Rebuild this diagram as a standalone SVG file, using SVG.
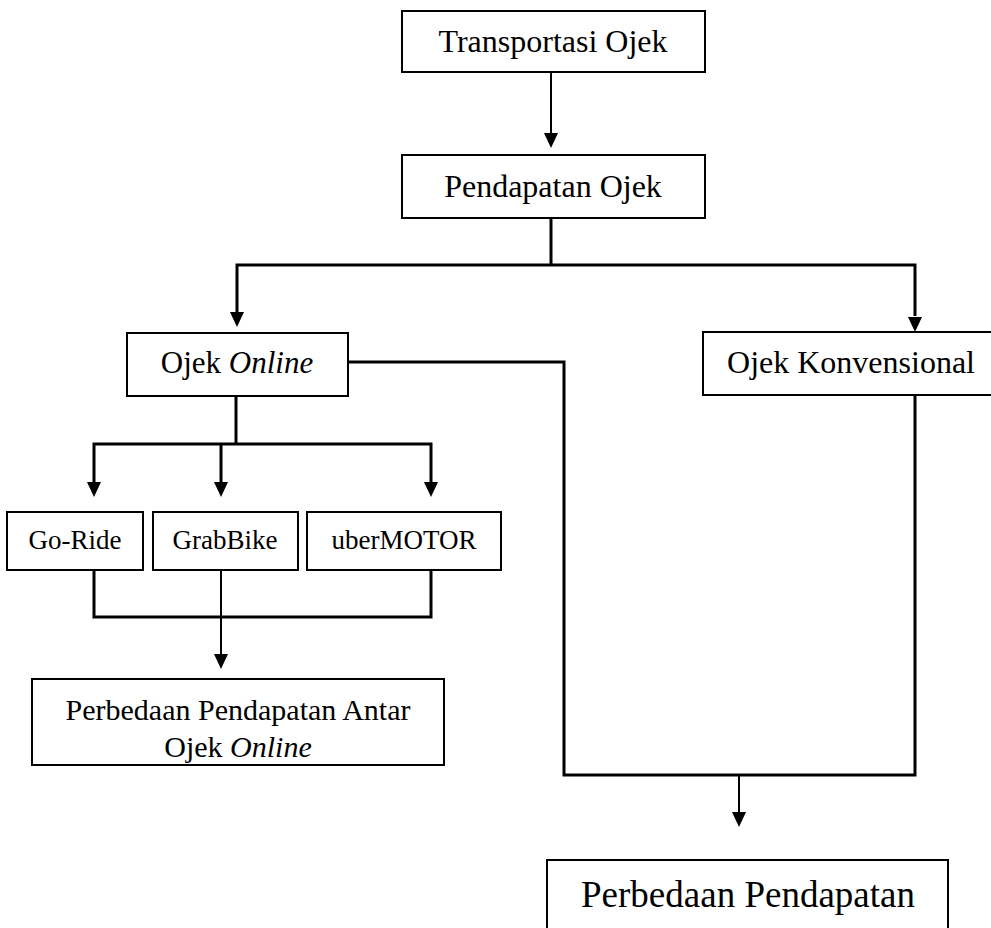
<svg xmlns="http://www.w3.org/2000/svg" width="991" height="928" viewBox="0 0 991 928">
<style>
.box{fill:#fff;stroke:#000;stroke-width:2}
.t{font-family:"Liberation Serif","Times New Roman",serif;fill:#000;text-anchor:middle}
.c{fill:none;stroke:#000;stroke-width:3}
.a{fill:none;stroke:#000;stroke-width:2}
.h{fill:#000;stroke:none}
</style>
<defs>
<marker id="ah" markerWidth="16" markerHeight="16" viewBox="0 0 16 16" refX="8" refY="16" orient="auto" markerUnits="userSpaceOnUse">
<path d="M1,0 L15,0 L8,16 Z" fill="#000"/>
</marker>
</defs>
<rect width="991" height="928" fill="#fff"/>
<g id="connectors">
<line class="a" x1="551" y1="72" x2="551" y2="133"/>
<path class="h" d="M544,133 L558,133 L551,148 Z"/>
<line class="c" x1="551" y1="218" x2="551" y2="265"/>
<polyline class="c" points="237,312 237,265 915,265 915,316"/>
<path class="h" d="M230,312 L244,312 L237,327 Z"/>
<path class="h" d="M908,317 L922,317 L915,332 Z"/>
<polyline class="c" points="348,362 564,362 564,775 915,775 915,395"/>
<line class="c" x1="236" y1="396" x2="236" y2="444"/>
<polyline class="c" points="94,482 94,444 431,444 431,482"/>
<line class="c" x1="221" y1="444" x2="221" y2="482"/>
<path class="h" d="M87,482 L101,482 L94,497 Z"/>
<path class="h" d="M214,482 L228,482 L221,497 Z"/>
<path class="h" d="M424,482 L438,482 L431,497 Z"/>
<polyline class="c" points="94,570 94,617 431,617 431,570"/>
<line class="a" x1="221" y1="570" x2="221" y2="654"/>
<path class="h" d="M214,654 L228,654 L221,669 Z"/>
<line class="a" x1="739" y1="775" x2="739" y2="812"/>
<path class="h" d="M732,812 L746,812 L739,827 Z"/>
</g>
<g id="transportasi">
<rect class="box" x="402" y="11" width="303" height="61"/>
<text class="t" x="553" y="52" font-size="32">Transportasi Ojek</text>
</g>
<g id="pendapatan">
<rect class="box" x="402" y="155" width="303" height="63"/>
<text class="t" x="553" y="197" font-size="32">Pendapatan Ojek</text>
</g>
<g id="online">
<rect class="box" x="127" y="333" width="221" height="63"/>
<text class="t" x="237" y="373" font-size="31">Ojek <tspan font-style="italic">Online</tspan></text>
</g>
<g id="konvensional">
<rect class="box" x="703" y="332" width="300" height="63"/>
<text class="t" x="851" y="373" font-size="32">Ojek Konvensional</text>
</g>
<g id="goride">
<rect class="box" x="7" y="512" width="136" height="58"/>
<text class="t" x="75" y="549" font-size="27">Go-Ride</text>
</g>
<g id="grabbike">
<rect class="box" x="153" y="512" width="145" height="58"/>
<text class="t" x="225" y="549" font-size="27">GrabBike</text>
</g>
<g id="ubermotor">
<rect class="box" x="307" y="512" width="194" height="58"/>
<text class="t" x="404" y="549" font-size="27">uberMOTOR</text>
</g>
<g id="antar">
<rect class="box" x="32" y="679" width="412" height="86"/>
<text class="t" x="238" y="720" font-size="30">Perbedaan Pendapatan Antar</text>
<text class="t" x="238" y="757" font-size="30">Ojek <tspan font-style="italic">Online</tspan></text>
</g>
<g id="perbedaan">
<rect class="box" x="547" y="860" width="401" height="80"/>
<text class="t" x="748" y="907" font-size="37">Perbedaan Pendapatan</text>
</g>
</svg>
